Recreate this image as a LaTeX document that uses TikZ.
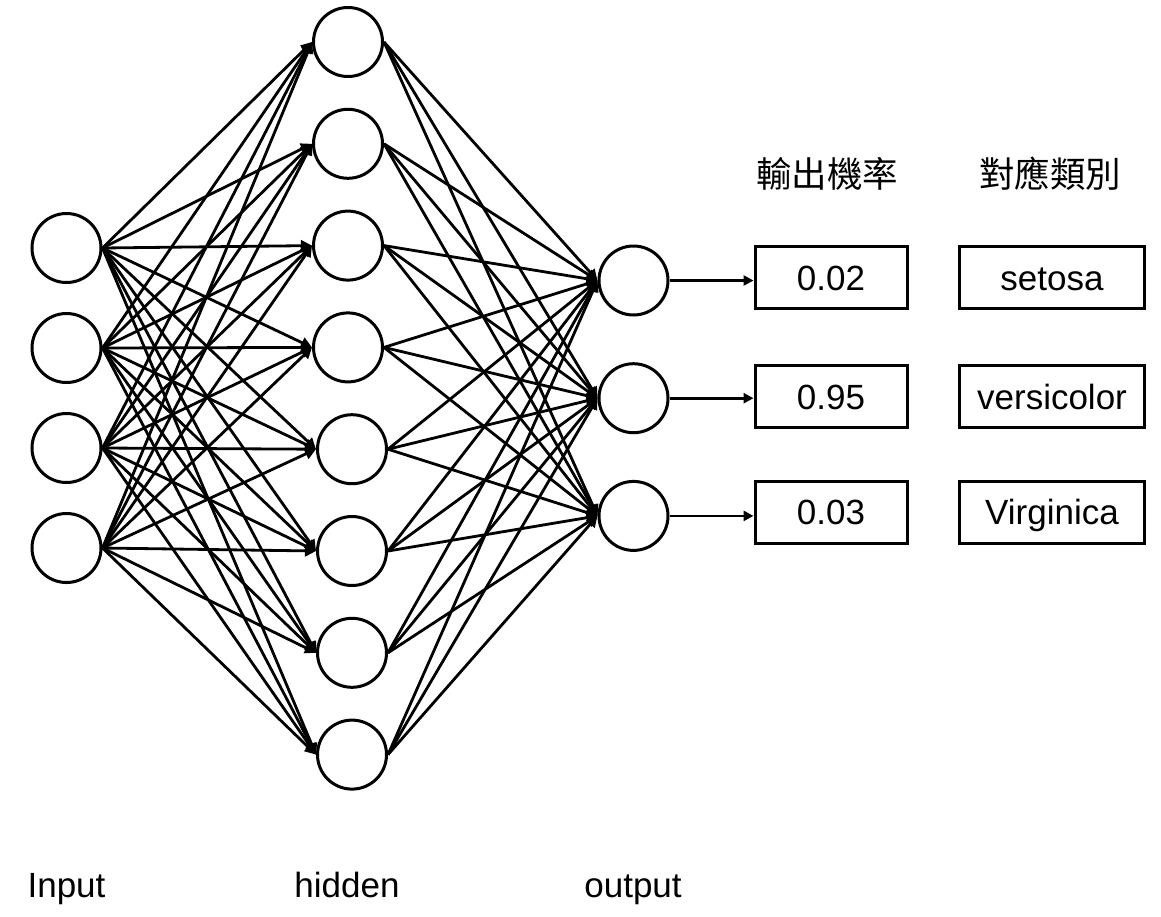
\documentclass[tikz,border=0pt]{standalone}
\usepackage{fontspec}
\setmainfont{Liberation Sans}
\newfontfamily\cjkfont{Noto Sans CJK TC}
\usetikzlibrary{arrows.meta}

\tikzset{
  neuron/.style={circle, draw, line width=3pt, minimum size=69pt, inner sep=0pt},
  probbox/.style={draw, line width=3pt, minimum width=152pt, minimum height=62pt,
    inner sep=0pt, text height=25pt, text depth=0pt, font=\fontsize{35}{35}\selectfont},
  classbox/.style={probbox, minimum width=185pt},
  link/.style={line width=2.8pt, -{Triangle[length=11pt,width=11pt]}},
  outlink/.style={line width=2.8pt, -{Triangle[length=10pt,width=10pt]}},
  layerlabel/.style={anchor=base, font=\fontsize{35}{35}\selectfont},
  header/.style={font=\cjkfont\fontsize{35.5}{35.5}\selectfont}
}

\begin{document}
\begin{tikzpicture}[x=1pt,y=-1pt]
      \useasboundingbox (0,0) rectangle (1161,916);

      % Constants
      \def\nin{4}   % Number of input neurons
      \def\nhid{8}  % Number of hidden neurons
      \def\nout{3}  % Number of output neurons

      % Input layer
      \foreach \i in {1,...,\nin} {
          \pgfmathsetmacro{\ypos}{248 + 100*(\i-1)}
          \node[neuron] (in\i) at (66.5,\ypos) {};
        }

      % Hidden layer (lower half sits slightly to the right)
      \foreach \j in {1,...,\nhid} {
          \pgfmathsetmacro{\ypos}{42 + 101.8*(\j-1)}
          \ifnum\j<5 \def\xpos{348}\else\def\xpos{352}\fi
          \node[neuron] (hid\j) at (\xpos,\ypos) {};
        }

      % Output layer
      \foreach \k in {1,...,\nout} {
          \pgfmathsetmacro{\ypos}{280.5 + 117.7*(\k-1)}
          \node[neuron] (out\k) at (633.5,\ypos) {};
        }

      % Fully connected links
      \foreach \i in {1,...,\nin} {
          \foreach \j in {1,...,\nhid} {
              \draw[link] (in\i.east) -- (hid\j.west);
            }
        }
      \foreach \j in {1,...,\nhid} {
          \foreach \k in {1,...,\nout} {
              \draw[link] (hid\j.east) -- (out\k.west);
            }
        }

      % Probabilities and classes
      \node[header] (probhead) at (827,174) {輸出機率};
      \node[header] (classhead) at (1050,174) {對應類別};
      \foreach \k/\p/\c/\yb in {1/0.02/setosa/277.5, 2/0.95/versicolor/396.5, 3/0.03/Virginica/512} {
          \node[probbox] (prob\k) at (831,\yb) {\p};
          \node[classbox] (class\k) at (1052,\yb) {\c};
          \draw[outlink] (out\k.east) -- (out\k.east -| prob\k.west);
        }

      % Layer names
      \node[layerlabel] (inlabel) at (66.5,897) {Input};
      \node[layerlabel] (hidlabel) at (347,897) {hidden};
      \node[layerlabel] (outlabel) at (633,897) {output};

    \end{tikzpicture}
\end{document}
